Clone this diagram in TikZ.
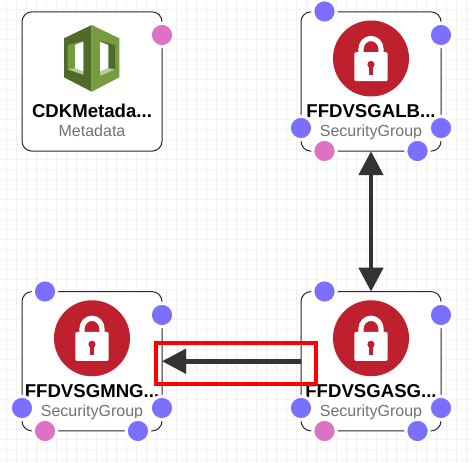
\documentclass[tikz,border=0pt]{standalone}
\usepackage{fontspec}
\setmainfont{Liberation Sans}
\usetikzlibrary{arrows.meta}
\definecolor{gridv}{HTML}{EFEFEF}
\definecolor{gridh}{HTML}{F4F4F4}
\definecolor{lockred}{HTML}{BE202E}
\definecolor{portblue}{HTML}{7B6FFF}
\definecolor{portpink}{HTML}{DD72C4}
\definecolor{subgrey}{HTML}{6F7378}
\definecolor{cubedark}{HTML}{4F6B2A}
\definecolor{cubelight}{HTML}{759C3E}
\definecolor{cubepale}{HTML}{B7CC96}
\definecolor{linkdark}{HTML}{333333}

\begin{document}
\begin{tikzpicture}[x=0.75pt,y=-0.75pt,>={Triangle[length=18pt,width=18pt]}]
  \tikzset{res/.style={rectangle, draw=black!85, fill=white, line width=0.75pt, rounded corners=7.5pt,
      minimum width=105pt, minimum height=104.5pt, inner sep=0pt, outer sep=0pt}}
  \tikzset{restitle/.style={anchor=base, inner sep=0pt, font=\fontsize{13.95pt}{16pt}\selectfont\bfseries}}
  \tikzset{restype/.style={anchor=base, inner sep=0pt, text=subgrey, font=\fontsize{12pt}{14pt}\selectfont}}
  \tikzset{port/.style={circle, draw=white, line width=2.25pt, minimum size=17.6pt, inner sep=0pt, outer sep=0pt}}
  \tikzset{link/.style={draw=linkdark, line width=3.4pt}}
  \tikzset{lockicon/.pic={
      \fill[lockred] (0,0) circle (38);
      \draw[white, line width=3.9pt] (-10,-5) -- (-10,-9.5) arc (180:360:10 and 10.5) -- (10,-5);
      \fill[white, rounded corners=1.5pt] (-16.7,-6.3) rectangle (16.7,22.7);
      \fill[lockred] (0,6) circle (3.6);
      \fill[lockred] (-1.6,6) rectangle (1.6,17);
  }}
  \useasboundingbox (0,0) rectangle (472,463);
  \fill[white] (0,0) rectangle (472,463);

  %--- grid ---
  \foreach \gx in {6,16,...,466} \draw[gridv, line width=0.75pt] (\gx,0) -- (\gx,463);
  \foreach \gy in {9.5,19.5,...,459.5} \draw[gridh, line width=0.75pt] (0,\gy) -- (472,\gy);

  %--- resources ---
  \node[res] (cdk)   at (92,81.5) {};
  \node[res] (sgalb) at (371,81.5) {};
  \node[res] (sgmng) at (92,361.25) {};
  \node[res] (sgasg) at (371,361.25) {};

  % metadata cube
  \fill[cubedark]  (91.7,25) -- (64,38.3) -- (64,77.3) -- (91.7,91.7) -- cycle;
  \fill[cubelight] (91.7,25) -- (119.3,38.3) -- (119.3,77.3) -- (91.7,91.7) -- cycle;
  \fill[cubelight] (67.7,45) -- (83.3,41) -- (83.3,72.7) -- (67.7,69.3) -- cycle;
  \fill[white]     (75,45) -- (83.3,41.7) -- (83.3,71.7) -- (75,68.3) -- cycle;
  \fill[cubepale]  (67.7,69.3) -- (75,68.3) -- (83.3,71.7) -- (83.3,74.7) -- cycle;
  \fill[cubedark]  (100,41) -- (115,45) -- (115,69.3) -- (100,72.7) -- cycle;
  \fill[white]     (100,41.7) -- (108.3,45) -- (108.3,68.3) -- (100,71.7) -- cycle;
  \fill[cubepale]  (100,71.7) -- (108.3,68.3) -- (115,69.3) -- (100,76) -- cycle;

  % lock icons
  \pic at (sgalb.center) [yshift=17.25pt] {lockicon};
  \pic at (sgmng.center) [yshift=17.25pt] {lockicon};
  \pic at (sgasg.center) [yshift=17.25pt] {lockicon};

  \node[restitle] (cdktitle) at (92,117.7) {CDKMetada...};
  \node[restype]  (cdktype)  at (92,137) {Metadata};
  \node[restitle] (albtitle) at (371,117.7) {FFDVSGALB...};
  \node[restype]  (albtype)  at (371,137) {SecurityGroup};
  \node[restitle] (mngtitle) at (92,397.4) {FFDVSGMNG...};
  \node[restype]  (mngtype)  at (92,416.7) {SecurityGroup};
  \node[restitle] (asgtitle) at (371,397.4) {FFDVSGASG...};
  \node[restype]  (asgtype)  at (371,416.7) {SecurityGroup};

  %--- links ---
  \draw[link, <->] (sgalb) -- (sgasg);
  \draw[link, ->] (sgasg) -- (sgmng);

  %--- ports ---
  \node[port, fill=portpink] (cdkp1) at (162,35) {};

  \node[port, fill=portblue] (albp1) at (324.5,11.5) {};
  \node[port, fill=portblue] (albp2) at (441,35) {};
  \node[port, fill=portblue] (albp3) at (301,128) {};
  \node[port, fill=portblue] (albp4) at (441,128) {};
  \node[port, fill=portpink] (albp5) at (324.5,151) {};
  \node[port, fill=portblue] (albp6) at (417.5,151) {};

  \node[port, fill=portblue] (mngp1) at (45,291.5) {};
  \node[port, fill=portblue] (mngp2) at (162,315) {};
  \node[port, fill=portblue] (mngp3) at (22,408) {};
  \node[port, fill=portblue] (mngp4) at (162,408) {};
  \node[port, fill=portpink] (mngp5) at (45,431) {};
  \node[port, fill=portblue] (mngp6) at (138,431) {};

  \node[port, fill=portblue] (asgp1) at (324.5,291.5) {};
  \node[port, fill=portblue] (asgp2) at (441,315) {};
  \node[port, fill=portblue] (asgp3) at (301,408) {};
  \node[port, fill=portblue] (asgp4) at (441,408) {};
  \node[port, fill=portpink] (asgp5) at (324.5,431) {};
  \node[port, fill=portblue] (asgp6) at (417.5,431) {};

  %--- highlight ---
  \draw[red, line width=3pt] (155.5,343.5) rectangle (316,384.5);
\end{tikzpicture}
\end{document}
